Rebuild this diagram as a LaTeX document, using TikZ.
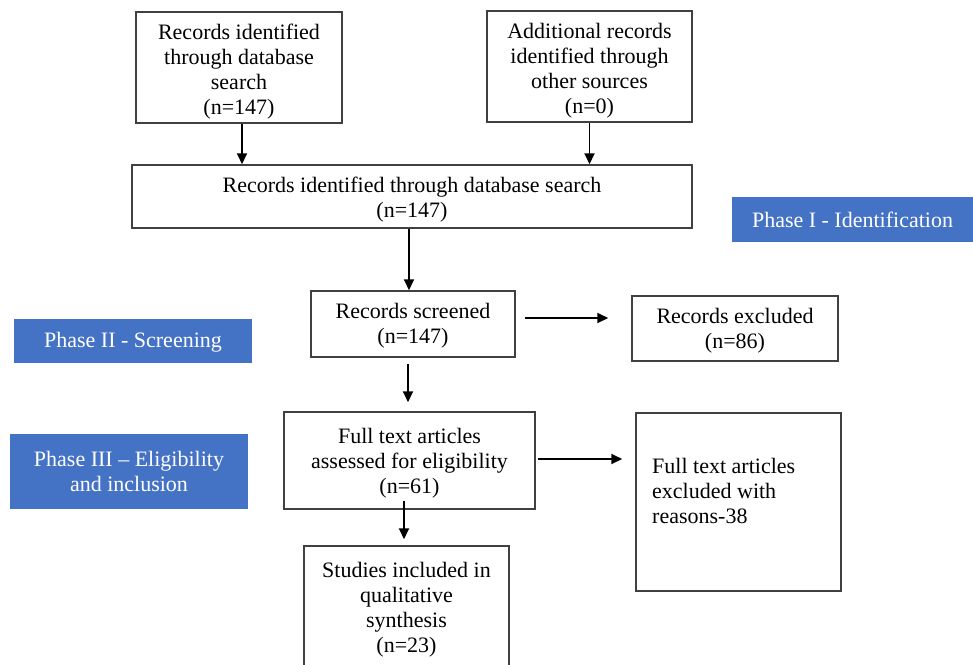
\documentclass[tikz,border=0pt]{standalone}
\usepackage{fontspec}
\setmainfont{Liberation Serif}
\usetikzlibrary{arrows.meta}
\definecolor{phaseblue}{HTML}{4472C4}
\definecolor{boxline}{HTML}{404040}
\newcommand\mydrop[1]{\rule{0pt}{#1}}
\begin{document}
\begin{tikzpicture}[x=1pt,y=-1pt,
  box/.style={draw=boxline, line width=1.5pt, fill=white, rectangle, inner sep=0pt, align=center, font=\fontsize{22}{25}\selectfont},
  phase/.style={fill=phaseblue, text=white, rectangle, inner sep=0pt, align=center, font=\fontsize{22}{25}\selectfont},
  plain/.style={inner sep=0pt, align=left, font=\fontsize{22}{25}\selectfont},
  arr/.style={draw=black, line width=1.9pt, -{Triangle[length=11pt,width=10pt]}}
]
\useasboundingbox (0,0) rectangle (973,664);
% boxes
\node[box, minimum width=206pt, minimum height=111pt] (b1) at (239,67.5) {\mydrop{24pt}Records identified\\through database\\search\\(n=147)};
\node[box, minimum width=205pt, minimum height=111pt] (b2) at (589.5,66.5) {\mydrop{24pt}Additional records\\identified through\\other sources\\(n=0)};
\node[box, minimum width=560pt, minimum height=63pt] (wide) at (412,196.5) {\mydrop{21pt}Records identified through database search\\(n=147)};
\node[box, minimum width=204pt, minimum height=66pt] (screened) at (413,324) {\mydrop{19pt}Records screened\\(n=147)};
\node[box, minimum width=206pt, minimum height=65pt] (excluded) at (735,328.5) {\mydrop{19pt}Records excluded\\(n=86)};
\node[box, minimum width=251pt, minimum height=97pt] (fulltext) at (409.5,460.5) {\mydrop{20pt}Full text articles\\assessed for eligibility\\(n=61)};
\node[box, minimum width=205pt, minimum height=178pt] (excl2) at (738.5,502) {};
\node[plain, anchor=north west] (excl2text) at (652,458) {Full text articles\\excluded with\\reasons-38};
\node[box, minimum width=205pt, minimum height=124pt] (studies) at (406.5,608) {\mydrop{19pt}Studies included in\\qualitative\\synthesis\\(n=23)};
% phases
\node[phase, minimum width=241pt, minimum height=45pt] (ph1) at (852.5,219.5) {Phase I - Identification};
\node[phase, minimum width=238pt, minimum height=44pt] (ph2) at (133,341) {\mydrop{18pt}Phase II - Screening};
\node[phase, minimum width=238pt, minimum height=75pt] (ph3) at (129,471.5) {Phase III – Eligibility\\and inclusion};
% arrows
\draw[arr] ([xshift=3pt]b1.south) -- ([xshift=3pt]b1.south |- wide.north);
\draw[arr] (b2.south) -- (b2.south |- wide.north);
\draw[arr] ([xshift=-4pt]screened.north |- wide.south) -- ([xshift=-4pt]screened.north);
\draw[arr, shorten <=9pt, shorten >=23pt] ([yshift=6pt]screened.east) -- ([yshift=10.5pt]excluded.west);
\draw[arr, shorten <=6pt, shorten >=9pt] ([xshift=-5pt]screened.south) -- ([xshift=-5pt]screened.south |- fulltext.north);
\draw[arr, shorten <=2pt, shorten >=13pt] ([yshift=1.5pt]fulltext.east) -- ([yshift=43pt]excl2.west);
\draw[arr, shorten <=-9pt, shorten >=6pt] ([xshift=-5.5pt]fulltext.south) -- ([xshift=-5.5pt]fulltext.south |- studies.north);
\end{tikzpicture}
\end{document}
